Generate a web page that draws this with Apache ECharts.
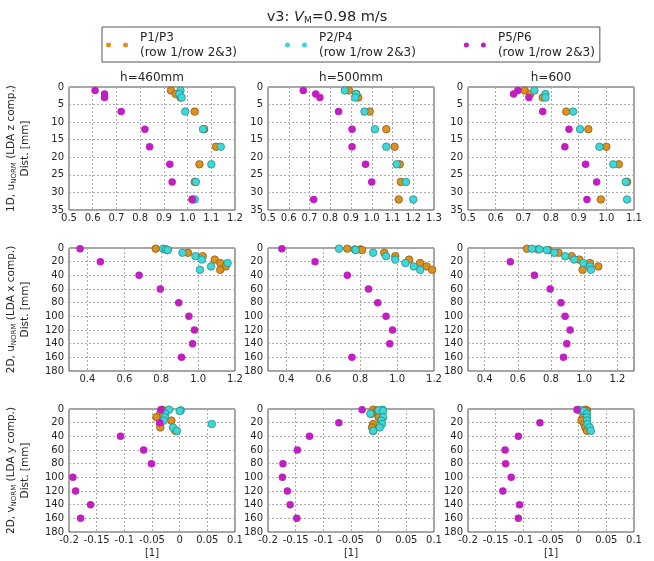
<!DOCTYPE html>
<html>
<head>
<meta charset="utf-8">
<script src="https://cdn.jsdelivr.net/npm/echarts@6/dist/echarts.min.js"></script>
<style>
  html, body { margin: 0; padding: 0; background: #fff; }
  #chart { width: 654px; height: 561px; }
</style>
</head>
<body>
<div id="chart"></div>
<script>
// Measurement depths [mm]: near-wall profile (P1-P4, and P5/P6 in 1D) and far profile (P5/P6 in 2D)
const depthsNear = [1, 2, 3, 7, 12, 17, 22, 27, 32];
const depthsFar = [1, 20, 40, 60, 80, 100, 120, 140, 160];

const panelTitles = ['h=460mm', 'h=500mm', 'h=600'];
const seriesNames = ['P1/P3\n(row 1/row 2&3)', 'P2/P4\n(row 1/row 2&3)', 'P5/P6\n(row 1/row 2&3)'];

// 1D, u_NORM (LDA z component)
const z460_P1P3 = [0.93, 0.95, 0.97, 1.03, 1.07, 1.12, 1.05, 1.03, 1.02];
const z460_P2P4 = [0.97, 0.965, 0.975, 0.99, 1.065, 1.14, 1.10, 1.035, 1.03];
const z460_P5P6 = [0.61, 0.65, 0.65, 0.72, 0.82, 0.84, 0.925, 0.935, 1.02];
const z500_P1P3 = [0.89, 0.925, 0.935, 0.99, 1.07, 1.11, 1.135, 1.14, 1.13];
const z500_P2P4 = [0.87, 0.925, 0.92, 0.965, 1.015, 1.07, 1.12, 1.165, 1.2];
const z500_P5P6 = [0.67, 0.73, 0.75, 0.84, 0.905, 0.905, 0.97, 1.0, 0.72];
const z600_P1P3 = [0.705, 0.725, 0.77, 0.855, 0.935, 1.0, 1.045, 1.075, 0.98];
const z600_P2P4 = [0.74, 0.78, 0.78, 0.88, 0.905, 0.975, 1.025, 1.07, 1.075];
const z600_P5P6 = [0.68, 0.665, 0.72, 0.77, 0.865, 0.85, 0.925, 0.965, 0.93];

// 2D, u_NORM (LDA x component)
const x460_P1P3 = [0.77, 0.82, 0.835, 0.945, 1.025, 1.09, 1.12, 1.15, 1.12];
const x460_P2P4 = [0.81, 0.825, 0.835, 0.915, 0.985, 1.02, 1.16, 1.07, 1.01];
const x460_P5P6 = [0.36, 0.47, 0.68, 0.795, 0.895, 0.95, 0.98, 0.97, 0.91];
const x500_P1P3 = [0.73, 0.8, 0.81, 0.93, 0.99, 1.065, 1.125, 1.16, 1.19];
const x500_P2P4 = [0.685, 0.77, 0.775, 0.87, 0.94, 0.99, 1.045, 1.09, 1.125];
const x500_P5P6 = [0.375, 0.555, 0.73, 0.845, 0.895, 0.94, 0.975, 0.96, 0.755];
const x600_P1P3 = [0.655, 0.72, 0.785, 0.845, 0.925, 0.97, 1.035, 1.085, 0.99];
const x600_P2P4 = [0.685, 0.73, 0.775, 0.82, 0.885, 0.94, 0.995, 1.035, 1.04];
const x600_P5P6 = [null, 0.555, 0.70, 0.795, 0.86, 0.885, 0.915, 0.895, 0.875];

// 2D, v_NORM (LDA y component)
const y460_P1P3 = [-0.032, -0.03, -0.028, -0.035, -0.042, -0.015, -0.035, -0.035, -0.008];
const y460_P2P4 = [-0.019, 0.002, 0.0, -0.026, -0.027, -0.029, 0.058, -0.012, -0.005];
const y460_P5P6 = [-0.034, -0.036, -0.107, -0.065, -0.051, -0.193, -0.188, -0.161, -0.179];
const y500_P1P3 = [-0.01, -0.003, 0.0, -0.013, 0.0, 0.004, -0.01, -0.012, -0.01];
const y500_P2P4 = [0.007, 0.0, 0.008, -0.015, 0.008, 0.005, 0.006, 0.002, -0.01];
const y500_P5P6 = [-0.03, -0.072, -0.125, -0.147, -0.173, -0.174, -0.165, -0.16, -0.148];
const y600_P1P3 = [0.012, 0.015, 0.014, 0.01, 0.008, 0.005, 0.01, 0.012, 0.015];
const y600_P2P4 = [-0.001, 0.004, 0.009, 0.015, 0.015, 0.015, 0.016, 0.02, 0.022];
const y600_P5P6 = [-0.003, -0.07, -0.109, -0.133, -0.132, -0.122, -0.137, -0.107, -0.109];

// Axis ranges
const xRangesZ = [[0.5, 1.2], [0.5, 1.3], [0.5, 1.1]];
const xRangesX = [[0.3, 1.2], [0.3, 1.2], [0.3, 1.3]];
const xRangesY = [[-0.2, 0.1], [-0.2, 0.1], [-0.2, 0.1]];
const xTicksX = [[0.4, 0.6, 0.8, 1.0, 1.2], [0.4, 0.6, 0.8, 1.0, 1.2], [0.4, 0.6, 0.8, 1.0, 1.2]];

const FONT = 'DejaVu Sans';
const TXT = '#262626';
const COLORS = ['#e0901d', '#3fd8d6', '#c21fc2'];
const EDGES = ['#8c5a12', '#1f8f8c', '#c21fc2'];

const colLeft = [69, 268, 468];
const colWidth = 166;
const rowTop = [87, 248, 409];
const rowHeight = 123;

const rows = [
  {
    label: '{t|1D, u}{s|NORM}{t| (LDA z comp.)}\n{t|Dist. [mm]}',
    yMax: 35, yStep: 5, farDepths: depthsNear,
    ranges: xRangesZ, step: 0.1, ticks: null,
    fmt: v => v.toFixed(1),
    data: [[z460_P1P3, z460_P2P4, z460_P5P6], [z500_P1P3, z500_P2P4, z500_P5P6], [z600_P1P3, z600_P2P4, z600_P5P6]]
  },
  {
    label: '{t|2D, u}{s|NORM}{t| (LDA x comp.)}\n{t|Dist. [mm]}',
    yMax: 180, yStep: 20, farDepths: depthsFar,
    ranges: xRangesX, step: null, ticks: xTicksX,
    fmt: v => v.toFixed(1),
    data: [[x460_P1P3, x460_P2P4, x460_P5P6], [x500_P1P3, x500_P2P4, x500_P5P6], [x600_P1P3, x600_P2P4, x600_P5P6]]
  },
  {
    label: '{t|2D, v}{s|NORM}{t| (LDA y comp.)}\n{t|Dist. [mm]}',
    yMax: 180, yStep: 20, farDepths: depthsFar,
    ranges: xRangesY, step: 0.05, ticks: null,
    fmt: v => String(+v.toFixed(2)),
    data: [[y460_P1P3, y460_P2P4, y460_P5P6], [y500_P1P3, y500_P2P4, y500_P5P6], [y600_P1P3, y600_P2P4, y600_P5P6]]
  }
];

const grids = [], xAxes = [], yAxes = [], series = [];
const splitLine = { show: true, lineStyle: { color: '#ababab', type: [2, 2], width: 1 } };
const labelStyle = { fontFamily: FONT, fontSize: 10, color: TXT };

rows.forEach((row, r) => {
  for (let c = 0; c < 3; c++) {
    const idx = grids.length;
    grids.push({
      left: colLeft[c], top: rowTop[r], width: colWidth, height: rowHeight,
      show: true, borderColor: '#4a4a4a', borderWidth: 1, backgroundColor: 'transparent'
    });
    const xa = {
      type: 'value', gridIndex: idx,
      min: row.ranges[c][0], max: row.ranges[c][1],
      axisLine: { show: false },
      axisTick: { show: false },
      splitLine: splitLine,
      axisLabel: Object.assign({ margin: 3, formatter: row.fmt }, labelStyle)
    };
    if (row.step) xa.interval = row.step;
    if (row.ticks) {
      xa.axisLabel.customValues = row.ticks[c];
      xa.axisTick.customValues = row.ticks[c];
    }
    if (r === 2) {
      xa.name = '[1]';
      xa.nameLocation = 'middle';
      xa.nameGap = 16;
      xa.nameTextStyle = { fontFamily: FONT, fontSize: 10, color: TXT };
    }
    xAxes.push(xa);

    const ya = {
      type: 'value', gridIndex: idx, inverse: true,
      min: 0, max: row.yMax, interval: row.yStep,
      axisLine: { show: false },
      axisTick: { show: false },
      splitLine: splitLine,
      axisLabel: Object.assign({ margin: 5 }, labelStyle)
    };
    if (c === 0) {
      ya.name = row.label;
      ya.nameLocation = 'middle';
      ya.nameRotate = 90;
      ya.nameGap = 37;
      ya.nameTextStyle = {
        align: 'center',
        rich: {
          t: { fontFamily: FONT, fontSize: 10.5, color: TXT, lineHeight: 14 },
          s: { fontFamily: FONT, fontSize: 7, color: TXT, lineHeight: 14, verticalAlign: 'bottom' }
        }
      };
    }
    yAxes.push(ya);

    row.data[c].forEach((vals, k) => {
      const depths = k === 2 ? row.farDepths : depthsNear;
      const pts = [];
      vals.forEach((v, i) => { if (v !== null) pts.push([v, depths[i]]); });
      series.push({
        type: 'scatter', name: seriesNames[k],
        xAxisIndex: idx, yAxisIndex: idx,
        symbol: 'circle', symbolSize: 7.5,
        itemStyle: { color: COLORS[k], borderColor: EDGES[k], borderWidth: k === 2 ? 0 : 0.8, opacity: 1 },
        emphasis: { disabled: true },
        data: pts
      });
    });
  }
});

const titles = [{
  text: '{a|v3: }{i|V}{s|M}{a|=0.98 m/s}',
  left: 'center', top: 10, padding: 0,
  textStyle: {
    fontWeight: 'normal',
    rich: {
      a: { fontFamily: FONT, fontSize: 14.5, fontWeight: 'normal', color: TXT },
      i: { fontFamily: FONT, fontSize: 14.5, fontWeight: 'normal', fontStyle: 'italic', color: TXT },
      s: { fontFamily: FONT, fontSize: 9, fontWeight: 'normal', color: TXT, verticalAlign: 'bottom' }
    }
  }
}];
panelTitles.forEach((t, c) => {
  titles.push({
    text: t, left: colLeft[c] + colWidth / 2, top: 72, padding: 0, textAlign: 'center',
    textStyle: { fontFamily: FONT, fontSize: 12, fontWeight: 'normal', color: TXT }
  });
});

const chart = echarts.init(document.getElementById('chart'), null, { renderer: 'canvas' });
chart.setOption({
  animation: false,
  backgroundColor: '#fff',
  title: titles,
  legend: {
    left: 102, top: 27,
    padding: [3, 5, 2, 4],
    borderColor: '#555', borderWidth: 1,
    itemGap: 48, itemWidth: 22, itemHeight: 5,
    icon: 'path://M0,2.5a2.5,2.5 0 1,0 5,0a2.5,2.5 0 1,0 -5,0M17,2.5a2.5,2.5 0 1,0 5,0a2.5,2.5 0 1,0 -5,0',
    itemStyle: { borderWidth: 0 },
    data: seriesNames,
    textStyle: { fontFamily: FONT, fontSize: 12, lineHeight: 15, color: TXT, padding: [0, 0, 0, 7] },
    selectedMode: false
  },
  grid: grids,
  xAxis: xAxes,
  yAxis: yAxes,
  series: series
});
</script>
</body>
</html>
